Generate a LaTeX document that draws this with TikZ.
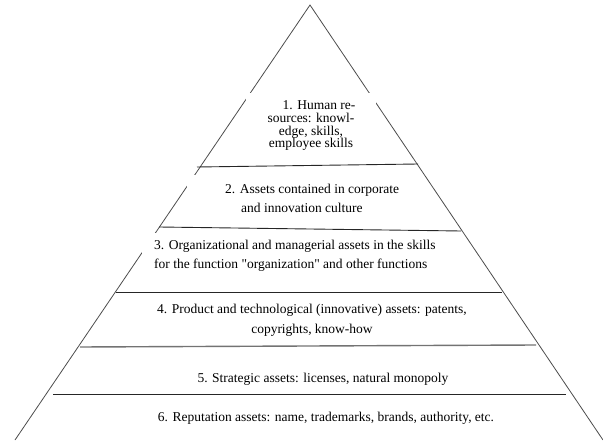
\documentclass[tikz,border=0pt]{standalone}
\usepackage{fontspec}
\setmainfont{Liberation Serif}

\tikzset{
  layertext/.style={font=\fontsize{13.5}{19}\selectfont, inner sep=0pt},
  side/.style={black!70, line width=0.8pt},
  layer/.style={black!85, line width=0.9pt}
}

\begin{document}
\begin{tikzpicture}[x=1pt,y=-1pt]
    \useasboundingbox (0,0) rectangle (603,441);
    % corners of the pyramid
    \coordinate (apex) at (310,5);
    \coordinate (bottomleft) at (15,440);
    \coordinate (bottomright) at (603,440);
    \draw[side] (bottomleft) -- (apex) -- (bottomright);

    % borders between the layers
    \draw[layer] (197,167) -- (418,164);
    \draw[layer] (159,227) -- (461,231);
    \draw[layer] (116,292) -- (502,292);
    \draw[layer, black!55, line width=1.4pt] (80,347) -- (536,345);
    \draw[layer] (53,394) -- (566,394);

    % text frames
    \fill[white] (246,93) rectangle (376,158);
    \fill[white] (187,175) rectangle (415,222);
    \fill[white] (142,233) rectangle (458,285);

    % layer 1 (base = last line)
    \node[layertext, font=\fontsize{13.5}{12.7}\selectfont, align=center, anchor=base] (human) at (311,148)
        {\hspace*{16pt}1. Human re-\\sources: knowl-\\edge, skills,\\employee skills};
    % layer 2
    \node[layertext, align=left, anchor=base west] (culture) at (225,213)
        {2. Assets contained in corporate\\[0.5pt]\hspace*{16pt}and innovation culture};
    % layer 3
    \node[layertext, align=left, anchor=base west] (organization) at (154,268)
        {3. Organizational and managerial assets in the skills\\for the function \textquotedbl organization\textquotedbl{} and other functions};
    % layer 4
    \node[layertext, align=center, anchor=base] (product) at (312,333)
        {4. Product and technological (innovative) assets: patents,\\[1pt]copyrights, know-how};
    % layer 5
    \node[layertext, anchor=base] (strategic) at (323,382)
        {5. Strategic assets: licenses, natural monopoly};
    % layer 6
    \node[layertext, anchor=base] (reputation) at (326,421)
        {6. Reputation assets: name, trademarks, brands, authority, etc.};
\end{tikzpicture}
\end{document}
